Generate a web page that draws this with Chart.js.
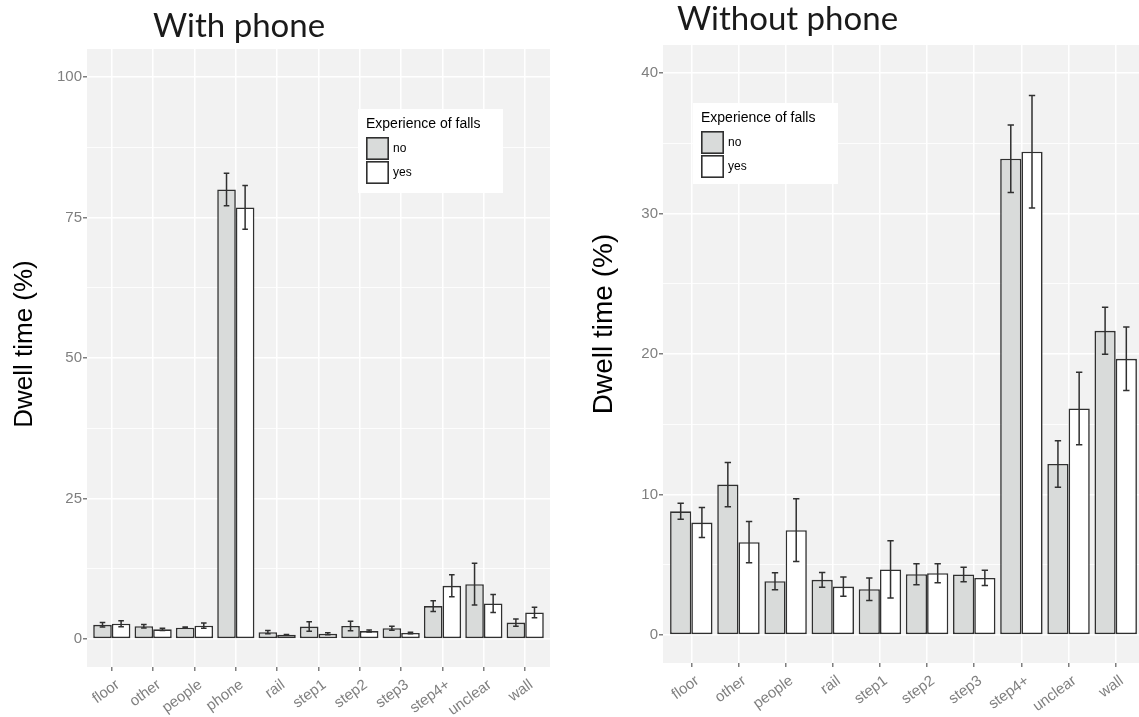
<!DOCTYPE html>
<html>
<head>
<meta charset="utf-8">
<script src="https://cdn.jsdelivr.net/npm/chart.js@4.4.1/dist/chart.umd.min.js"></script>
<style>
  html, body { margin: 0; padding: 0; background: #ffffff; overflow: hidden; width: 1139px; height: 717px; }
  canvas { position: absolute; top: 0; }
  #withPhone { left: 0; }
  #withoutPhone { left: 560px; }
</style>
</head>
<body>
<canvas id="withPhone" width="560" height="717"></canvas>
<canvas id="withoutPhone" width="600" height="717"></canvas>
<script>
// ---- data: dwell time (%) by gaze target, split by experience of falls ----
const fallGroups = ['no', 'yes'];

const withPhoneCategories = ['floor', 'other', 'people', 'phone', 'rail', 'step1', 'step2', 'step3', 'step4+', 'unclear', 'wall'];
const withPhoneNo      = [2.5, 2.25, 2.0, 80.0, 1.2, 2.2, 2.3, 1.9, 5.85, 9.75, 2.9];
const withPhoneNoErr   = [0.4, 0.3, 0.12, 2.9, 0.3, 0.85, 0.83, 0.35, 0.95, 3.7, 0.65];
const withPhoneYes     = [2.7, 1.7, 2.35, 76.8, 0.75, 0.9, 1.4, 1.05, 9.45, 6.3, 4.7];
const withPhoneYesErr  = [0.55, 0.2, 0.47, 3.9, 0.05, 0.18, 0.18, 0.12, 1.95, 1.6, 0.95];
const withPhoneTicks   = [0, 25, 50, 75, 100];

const withoutPhoneCategories = ['floor', 'other', 'people', 'rail', 'step1', 'step2', 'step3', 'step4+', 'unclear', 'wall'];
const withoutPhoneNo     = [8.8, 10.7, 3.82, 3.92, 3.25, 4.32, 4.3, 33.9, 12.17, 21.65];
const withoutPhoneNoErr  = [0.57, 1.58, 0.6, 0.53, 0.8, 0.74, 0.52, 2.4, 1.65, 1.67];
const withoutPhoneYes    = [8.0, 6.6, 7.46, 3.44, 4.66, 4.39, 4.06, 34.4, 16.12, 19.66];
const withoutPhoneYesErr = [1.07, 1.47, 2.23, 0.68, 2.04, 0.67, 0.55, 4.0, 2.58, 2.26];
const withoutPhoneTicks  = [0, 10, 20, 30, 40];

// ---- styling ----
const PANEL_BG = '#f2f2f2';
const FILL_NO = '#d9dbda';
const FILL_YES = '#ffffff';
const OUTLINE = '#303030';
const TICK_GREY = '#7f7f7f';
const SANS = '"Liberation Sans", Arial, sans-serif';

function toPoints(values) {
  return values.map((v, i) => ({ x: i + 1, y: v }));
}

// grey panel behind the plotting area
const panelBackground = {
  id: 'panelBackground',
  beforeDraw(chart) {
    const { ctx, chartArea: a } = chart;
    ctx.save();
    ctx.fillStyle = PANEL_BG;
    ctx.fillRect(a.left, a.top, a.right - a.left, a.bottom - a.top);
    ctx.restore();
  }
};

// mean ± error whiskers on top of each bar
const errorBars = {
  id: 'errorBars',
  afterDatasetsDraw(chart, args, opts) {
    const ctx = chart.ctx;
    const yScale = chart.scales.y;
    chart.data.datasets.forEach((ds, di) => {
      const meta = chart.getDatasetMeta(di);
      meta.data.forEach((bar, i) => {
        const v = ds.data[i].y;
        const e = ds.errors[i];
        const top = yScale.getPixelForValue(v + e);
        const bot = yScale.getPixelForValue(v - e);
        const half = bar.width * opts.capRatio / 2;
        ctx.save();
        ctx.strokeStyle = opts.color;
        ctx.lineWidth = opts.lineWidth;
        ctx.beginPath();
        ctx.moveTo(bar.x, top); ctx.lineTo(bar.x, bot);
        ctx.moveTo(bar.x - half, top); ctx.lineTo(bar.x + half, top);
        ctx.moveTo(bar.x - half, bot); ctx.lineTo(bar.x + half, bot);
        ctx.stroke();
        ctx.restore();
      });
    });
  }
};

// panel title, rotated y-axis title and the boxed legend
const decorations = {
  id: 'decorations',
  afterDraw(chart, args, o) {
    const ctx = chart.ctx;
    ctx.save();
    // title
    ctx.fillStyle = '#1a1a1a';
    ctx.font = o.title.font;
    ctx.textAlign = 'left';
    ctx.textBaseline = 'alphabetic';
    ctx.fillText(o.title.text, o.title.x, o.title.y);
    // y axis title
    ctx.save();
    ctx.translate(o.yTitle.x, o.yTitle.y);
    ctx.rotate(-Math.PI / 2);
    ctx.font = o.yTitle.font;
    ctx.fillStyle = '#000000';
    ctx.textAlign = 'center';
    ctx.textBaseline = 'middle';
    ctx.fillText(o.yTitle.text, 0, 0);
    ctx.restore();
    // legend
    const L = o.legend;
    ctx.fillStyle = '#ffffff';
    ctx.fillRect(L.x, L.y, L.w, L.h);
    ctx.fillStyle = '#000000';
    ctx.font = L.titleFont;
    ctx.textAlign = 'left';
    ctx.textBaseline = 'alphabetic';
    ctx.fillText(L.title, L.x + L.pad, L.titleY);
    chart.data.datasets.forEach((ds, i) => {
      const ky = L.keyY + i * L.keyStep;
      ctx.fillStyle = ds.backgroundColor;
      ctx.fillRect(L.x + L.pad, ky, L.key, L.key);
      ctx.strokeStyle = OUTLINE;
      ctx.lineWidth = 1.6;
      ctx.strokeRect(L.x + L.pad + 0.8, ky + 0.8, L.key - 1.6, L.key - 1.6);
      ctx.fillStyle = '#000000';
      ctx.font = L.labelFont;
      ctx.textBaseline = 'middle';
      ctx.fillText(ds.label, L.x + L.pad + L.key + 4, ky + L.key / 2);
    });
    ctx.restore();
  }
};

function buildChart(canvasId, cfg) {
  const majors = cfg.ticks;
  const step = majors[1] - majors[0];
  const gridValues = [];
  majors.forEach((t, i) => {
    gridValues.push(t);
    if (i < majors.length - 1) gridValues.push(t + step / 2);
  });
  const isMajor = v => majors.includes(v);

  return new Chart(document.getElementById(canvasId), {
    type: 'bar',
    data: {
      datasets: [
        {
          label: fallGroups[0],
          data: toPoints(cfg.no),
          errors: cfg.noErr,
          backgroundColor: FILL_NO,
          borderColor: OUTLINE,
          borderWidth: 1.6,
          borderSkipped: false
        },
        {
          label: fallGroups[1],
          data: toPoints(cfg.yes),
          errors: cfg.yesErr,
          backgroundColor: FILL_YES,
          borderColor: OUTLINE,
          borderWidth: 1.6,
          borderSkipped: false
        }
      ]
    },
    options: {
      responsive: false,
      animation: false,
      events: [],
      categoryPercentage: 0.9,
      barPercentage: 1.0,
      layout: { padding: { top: cfg.area.top, right: cfg.area.right, left: 0, bottom: 0 } },
      scales: {
        x: {
          type: 'linear',
          offset: false,
          min: 0.4,
          max: cfg.categories.length + 0.6,
          afterBuildTicks: s => { s.ticks = cfg.categories.map((c, i) => ({ value: i + 1 })); },
          afterFit: s => { s.height = cfg.area.xHeight; },
          ticks: {
            autoSkip: false,
            minRotation: 36,
            maxRotation: 36,
            padding: 5,
            labelOffset: 6,
            color: TICK_GREY,
            font: { family: SANS, size: 15 },
            callback: (v, i) => cfg.categories[i]
          },
          grid: {
            offset: false,
            color: '#ffffff',
            lineWidth: 1.5,
            tickColor: TICK_GREY,
            tickLength: 4
          },
          border: { display: false }
        },
        y: {
          min: cfg.yMin,
          max: cfg.yMax,
          afterBuildTicks: s => { s.ticks = gridValues.map(v => ({ value: v })); },
          afterFit: s => { s.width = cfg.area.yWidth; },
          ticks: {
            autoSkip: false,
            padding: 1,
            color: TICK_GREY,
            font: { family: SANS, size: 15 },
            callback: v => (isMajor(v) ? String(v) : '')
          },
          grid: {
            color: '#ffffff',
            lineWidth: c => (isMajor(c.tick.value) ? 1.5 : 0.8),
            tickColor: c => (isMajor(c.tick.value) ? TICK_GREY : 'rgba(0,0,0,0)'),
            tickLength: 4
          },
          border: { display: false }
        }
      },
      plugins: {
        legend: { display: false },
        tooltip: { enabled: false },
        errorBars: { color: OUTLINE, lineWidth: 1.5, capRatio: 0.3 },
        decorations: cfg.decor
      }
    },
    plugins: [panelBackground, errorBars, decorations]
  });
}

buildChart('withPhone', {
  categories: withPhoneCategories,
  no: withPhoneNo, noErr: withPhoneNoErr,
  yes: withPhoneYes, yesErr: withPhoneYesErr,
  ticks: withPhoneTicks,
  yMin: -5, yMax: 105,
  area: { top: 49, right: 10, yWidth: 87, xHeight: 50 },
  decor: {
    title: { text: 'With phone', x: 153, y: 37, font: '33px Lato, "Open Sans", sans-serif' },
    yTitle: { text: 'Dwell time (%)', x: 25, y: 344, font: '26px ' + SANS },
    legend: {
      x: 358, y: 109, w: 145, h: 84, pad: 8,
      title: 'Experience of falls', titleY: 128, titleFont: '14px ' + SANS,
      keyY: 137, keyStep: 24, key: 23, labelFont: '12px ' + SANS
    }
  }
});

buildChart('withoutPhone', {
  categories: withoutPhoneCategories,
  no: withoutPhoneNo, noErr: withoutPhoneNoErr,
  yes: withoutPhoneYes, yesErr: withoutPhoneYesErr,
  ticks: withoutPhoneTicks,
  yMin: -2, yMax: 42,
  area: { top: 45, right: 16, yWidth: 103, xHeight: 54 },
  decor: {
    title: { text: 'Without phone', x: 117, y: 30, font: '33px Lato, "Open Sans", sans-serif' },
    yTitle: { text: 'Dwell time (%)', x: 44, y: 324, font: '28px ' + SANS },
    legend: {
      x: 133, y: 103, w: 145, h: 81, pad: 8,
      title: 'Experience of falls', titleY: 122, titleFont: '14px ' + SANS,
      keyY: 131, keyStep: 24, key: 23, labelFont: '12px ' + SANS
    }
  }
});
</script>
</body>
</html>
